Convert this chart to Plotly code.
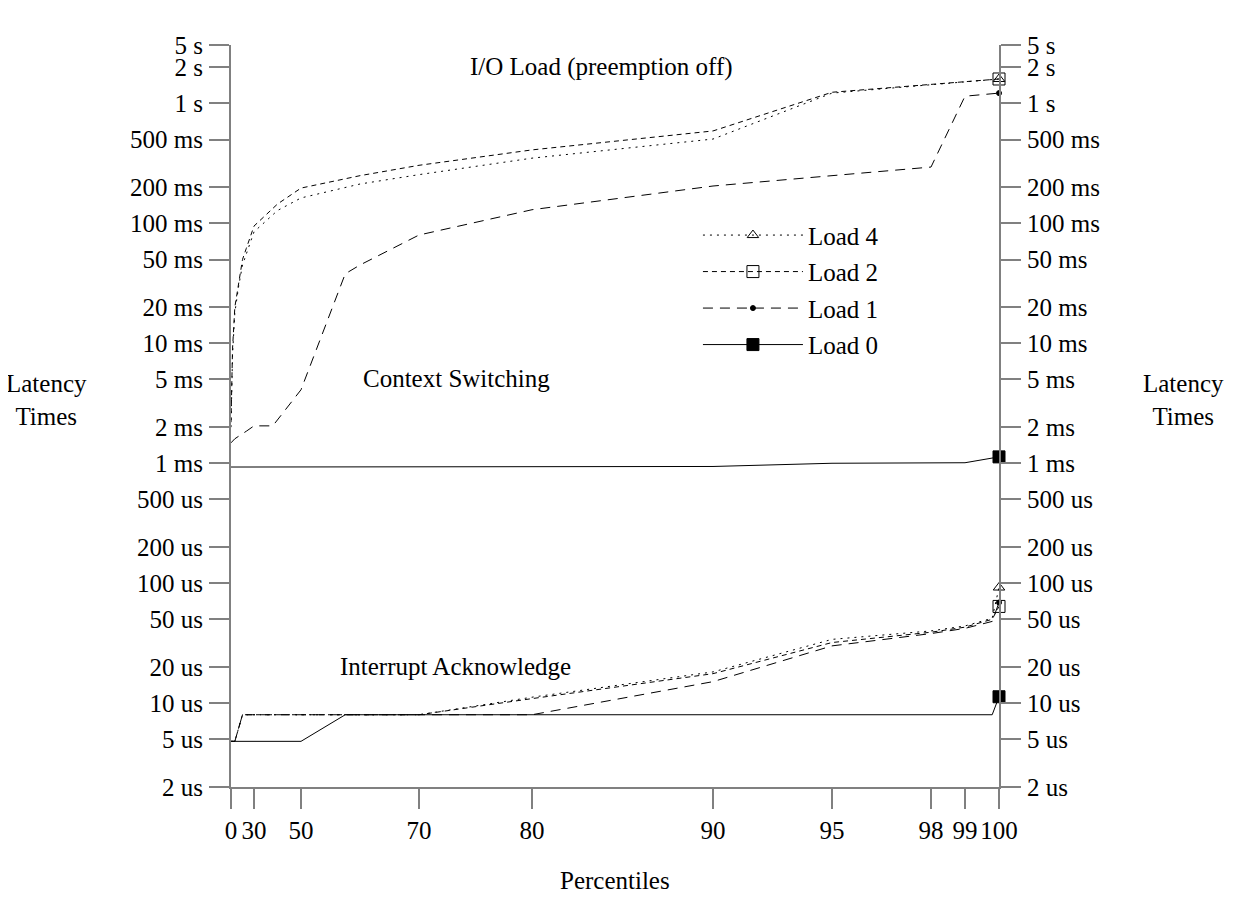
import numpy as np
import plotly.graph_objects as go

# ---------------- axis definitions ----------------
# percentile ticks of the (non-uniform) x axis and their positions along the axis (0..768)
TICK_PCT = [0, 30, 50, 70, 80, 90, 95, 98, 99, 100]
TICK_LABELS = ["0", "30", "50", "70", "80", "90", "95", "98", "99", "100"]
TICK_POS = [0, 23, 70, 188, 301, 482, 601, 700, 734, 768]

# latency ticks (microseconds)
Y_TICKS = [2, 5, 10, 20, 50, 100, 200, 500, 1e3, 2e3, 5e3, 1e4, 2e4, 5e4,
           1e5, 2e5, 5e5, 1e6, 2e6]
Y_LABELS = ["2 us", "5 us", "10 us", "20 us", "50 us", "100 us", "200 us",
            "500 us", "1 ms", "2 ms", "5 ms", "10 ms", "20 ms", "50 ms",
            "100 ms", "200 ms", "500 ms", "1 s", "2 s"]
Y_TOP_LOG = 6.487          # top of the axis (labelled "5 s" in the original)
Y_TOP_LABEL = "5 s"

# ---------------- data ----------------
# upper curves (context switching / I/O load), milliseconds
CS_L4_PCT = [0, 1, 2, 5, 10, 15, 20, 25, 30, 40, 50, 60, 70, 80, 90, 95, 98, 99, 100]
CS_L4_MS = [2.0, 3.5, 8, 18, 30, 45, 56, 70, 85, 128, 163, 213, 255, 350, 505, 1220, 1440, 1520, 1600]
CS_L2_PCT = [0, 1, 2, 5, 10, 15, 20, 25, 30, 40, 50, 60, 70, 80, 90, 95, 98, 99, 100]
CS_L2_MS = [2.2, 4, 9, 20, 33, 50, 62, 78, 95, 145, 197, 250, 305, 410, 590, 1240, 1440, 1520, 1600]
CS_L1_PCT = [0, 5, 20, 30, 38, 50, 57.5, 60, 70, 80, 90, 95, 98, 99, 100]
CS_L1_MS = [1.48, 1.6, 1.85, 2.05, 2.05, 4.1, 38, 45, 80, 130, 205, 250, 295, 1150, 1220]
CS_L0_PCT = [0, 50, 70, 80, 90, 95, 98, 99, 100]
CS_L0_MS = [0.93, 0.93, 0.93, 0.935, 0.94, 1.0, 1.0, 1.01, 1.13]

# lower curves (interrupt acknowledge), microseconds
IA_L4_PCT = [0, 5, 15, 30, 50, 70, 80, 90, 95, 98, 99, 99.8, 100]
IA_L4_US = [4.8, 4.8, 8.0, 8.0, 8.0, 8.0, 11.2, 18.2, 34, 40, 44, 51, 92]
IA_L2_PCT = [0, 5, 15, 30, 50, 70, 80, 90, 95, 98, 99, 99.8, 100]
IA_L2_US = [4.8, 4.8, 8.0, 8.0, 8.0, 8.0, 10.9, 17.6, 32, 39, 43, 50, 64]
IA_L1_PCT = [0, 5, 15, 30, 50, 70, 80, 90, 95, 98, 99, 99.8, 100]
IA_L1_US = [4.8, 4.8, 8.0, 8.0, 8.0, 8.0, 8.0, 15.1, 30, 38, 42, 48, 69]
IA_L0_PCT = [0, 30, 50, 57.5, 70, 80, 90, 95, 98, 99, 99.8, 100]
IA_L0_US = [4.8, 4.8, 4.8, 8.0, 8.0, 8.0, 8.0, 8.0, 8.0, 8.0, 8.0, 11.3]

LOAD_NAMES = ["Load 4", "Load 2", "Load 1", "Load 0"]

# ---------------- styles ----------------
FONT = "Liberation Serif, Times New Roman, serif"
FS = 25
AXIS_GRAY = "#808080"
STYLE = {
    "Load 4": dict(dash="2px,5px", symbol="triangle-up-open", size=10),
    "Load 2": dict(dash="5px,4px", symbol="square-open", size=12),
    "Load 1": dict(dash="10px,7px", symbol="circle", size=5),
    "Load 0": dict(dash="solid", symbol="square", size=12),
}


def xpos(pct):
    return np.interp(np.asarray(pct, dtype=float), TICK_PCT, TICK_POS)


series = [
    ("Load 4", CS_L4_PCT, np.array(CS_L4_MS) * 1000.0),
    ("Load 2", CS_L2_PCT, np.array(CS_L2_MS) * 1000.0),
    ("Load 1", CS_L1_PCT, np.array(CS_L1_MS) * 1000.0),
    ("Load 0", CS_L0_PCT, np.array(CS_L0_MS) * 1000.0),
    ("Load 4", IA_L4_PCT, np.array(IA_L4_US)),
    ("Load 2", IA_L2_PCT, np.array(IA_L2_US)),
    ("Load 1", IA_L1_PCT, np.array(IA_L1_US)),
    ("Load 0", IA_L0_PCT, np.array(IA_L0_US)),
]

fig = go.Figure()

# legend entries
for name in LOAD_NAMES:
    st = STYLE[name]
    fig.add_trace(go.Scatter(
        x=[None], y=[None], name=name, legendgroup=name, mode="lines+markers",
        line=dict(color="black", width=1, dash=st["dash"]),
        marker=dict(symbol=st["symbol"], size=st["size"], color="black",
                    line=dict(color="black", width=1)),
    ))

for name, pct, vals in series:
    st = STYLE[name]
    fig.add_trace(go.Scatter(
        x=xpos(pct), y=vals, mode="lines", showlegend=False, hoverinfo="skip",
        line=dict(color="black", width=1, dash=st["dash"]),
    ))
    fig.add_trace(go.Scatter(
        x=xpos([pct[-1]]), y=[vals[-1]], mode="markers", showlegend=False,
        cliponaxis=False, hoverinfo="skip",
        marker=dict(symbol=st["symbol"], size=st["size"], color="black",
                    line=dict(color="black", width=1)),
    ))

# dummy trace so the right-hand axis is drawn
fig.add_trace(go.Scatter(x=[None], y=[None], yaxis="y2", showlegend=False,
                         hoverinfo="skip"))

yr = [np.log10(2) - 0.0005, Y_TOP_LOG + 0.0005]
ytickvals = Y_TICKS + [10 ** Y_TOP_LOG]
yticktext = Y_LABELS + [Y_TOP_LABEL]

yaxis_common = dict(
    type="log", range=yr, tickmode="array", tickvals=ytickvals, ticktext=yticktext,
    ticks="outside", ticklen=20, tickwidth=1.5, tickcolor=AXIS_GRAY,
    showline=True, linecolor=AXIS_GRAY, linewidth=2, showgrid=False,
    zeroline=False, tickfont=dict(family=FONT, size=FS, color="black"),
    ticklabelstandoff=1,
)


def note(text, x, y):
    return dict(text=text, x=x, y=y, xref="paper", yref="paper", showarrow=False,
                xanchor="center", yanchor="middle", font=dict(size=FS))


fig.update_layout(
    width=1233, height=919, autosize=False,
    margin=dict(l=223, r=242, t=37, b=140),
    paper_bgcolor="white", plot_bgcolor="white",
    font=dict(family=FONT, size=FS, color="black"),
    xaxis=dict(
        range=[0, 768], tickmode="array", tickvals=TICK_POS, ticktext=TICK_LABELS,
        ticks="outside", ticklen=20, tickwidth=1.5, tickcolor=AXIS_GRAY,
        showline=True, linecolor=AXIS_GRAY, linewidth=2, showgrid=False,
        zeroline=False, tickfont=dict(family=FONT, size=FS, color="black"),
        ticklabelstandoff=0,
    ),
    yaxis=dict(side="left", **yaxis_common),
    yaxis2=dict(side="right", overlaying="y", anchor="x", **yaxis_common),
    showlegend=True,
    legend=dict(
        x=0.608, y=0.7745, xanchor="left", yanchor="top",
        bgcolor="rgba(0,0,0,0)", font=dict(family=FONT, size=FS, color="black"),
        itemwidth=100, tracegroupgap=1,
    ),
    annotations=[
        note("I/O Load (preemption off)", 0.483, 0.970),
        note("Context Switching", 0.294, 0.550),
        note("Interrupt Acknowledge", 0.292, 0.162),
        note("Latency<br>Times", -0.2396, 0.522),
        note("Latency<br>Times", 1.2396, 0.522),
        note("Percentiles", 0.5, -0.126),
    ],
)

fig.write_html("out.html")
